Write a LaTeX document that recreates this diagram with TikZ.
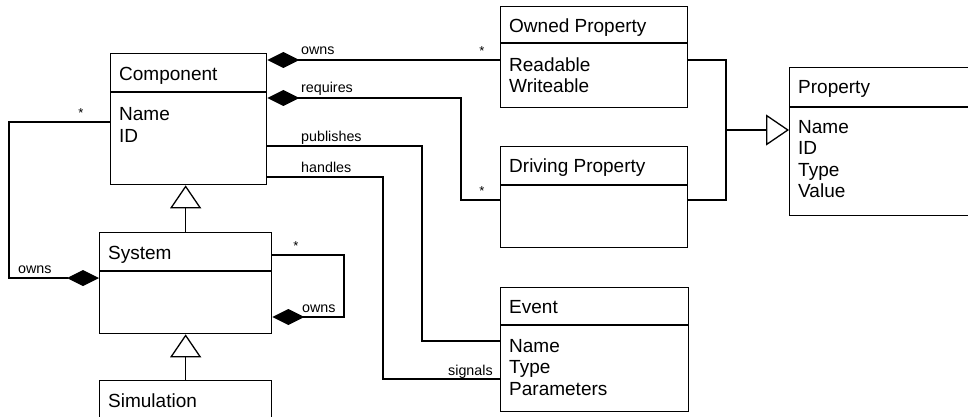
\documentclass[tikz,border=0pt]{standalone}
\usepackage{fontspec}
\setmainfont{Liberation Sans}
\usetikzlibrary{arrows.meta}
\tikzset{
  ln/.style={line width=1.3pt},
  cls/.style 2 args={draw, line width=1.3pt, anchor=north west, inner sep=0pt,
    minimum width=#1pt, minimum height=#2pt},
  txt/.style={anchor=base west, inner sep=0pt, font=\fontsize{19}{21}\selectfont},
  lbl/.style={anchor=base west, inner sep=0pt, font=\fontsize{14.3}{16}\selectfont},
  star/.style={inner sep=0pt, font=\fontsize{13}{14}\selectfont},
  compo/.style={ln, -{Diamond[length=32pt,width=16pt]}},
  gen/.style={ln, -{Triangle[length=23pt,width=31pt,fill=white]}},
}
\begin{document}
\begin{tikzpicture}[x=1pt,y=-1pt]
\clip (0,0) rectangle (968,417);
\fill[white] (0,0) rectangle (968,417);

% ---- classes ----
\node[cls={156}{131}] (comp) at (110,53) {};
\draw[ln] (comp.west |- 0,92) -- (comp.east |- 0,92);
\node[txt] (compT) at (119,81) {Component};
\node[txt] (compA1) at (119,121) {Name};
\node[txt] (compA2) at (119,142) {ID};

\node[cls={172}{101}] (sys) at (99,232) {};
\draw[ln] (sys.west |- 0,271) -- (sys.east |- 0,271);
\node[txt] (sysT) at (108,259) {System};

\node[cls={172}{80}] (sim) at (99,380) {};
\node[txt] (simT) at (108,407) {Simulation};

\node[cls={187}{101}] (owned) at (500,6) {};
\draw[ln] (owned.west |- 0,43) -- (owned.east |- 0,43);
\node[txt] (ownedT) at (509,33) {Owned Property};
\node[txt] (ownedA1) at (509,72) {Readable};
\node[txt] (ownedA2) at (509,93) {Writeable};

\node[cls={187}{101}] (drv) at (500,146) {};
\draw[ln] (drv.west |- 0,185) -- (drv.east |- 0,185);
\node[txt] (drvT) at (509,172) {Driving Property};

\node[cls={220}{148}] (prop) at (789,67) {};
\draw[ln] (prop.west |- 0,107) -- (prop.east |- 0,107);
\node[txt] (propT) at (798,94) {Property};
\node[txt] (propA1) at (798,133) {Name};
\node[txt] (propA2) at (798,154.5) {ID};
\node[txt] (propA3) at (798,176) {Type};
\node[txt] (propA4) at (798,197.5) {Value};

\node[cls={188}{124}] (evt) at (500,287) {};
\draw[ln] (evt.west |- 0,325) -- (evt.east |- 0,325);
\node[txt] (evtT) at (509,313) {Event};
\node[txt] (evtA1) at (509,352) {Name};
\node[txt] (evtA2) at (509,373.5) {Type};
\node[txt] (evtA3) at (509,395) {Parameters};

% ---- generalisations ----
\draw[gen] (sys.north) -- (sys.north |- comp.south);
\draw[gen] (sim.north) -- (sim.north |- sys.south);
\coordinate (pj) at (726,130);
\draw[ln] (owned.east |- 0,60) -| (pj) |- (drv.east |- 0,200);
\draw[gen] (pj) -- (prop.west |- pj);

% ---- associations ----
\draw[compo] (owned.west |- 0,60) -- (comp.east |- 0,60);
\node[lbl] (l1) at (301,55) {owns};
\node[star] (s1) at (482,51) {*};

\draw[compo] (drv.west |- 0,200) -- (461,200) -- (461,98) -- (comp.east |- 0,98);
\node[lbl] (l2) at (301,93) {requires};
\node[star] (s2) at (482,191) {*};

\draw[ln] (comp.east |- 0,146) -- (422,146) -- (422,341) -- (evt.west |- 0,341);
\node[lbl] (l3) at (301,141) {publishes};

\draw[ln] (comp.east |- 0,177) -- (383,177) -- (383,379) -- (evt.west |- 0,379);
\node[lbl] (l4) at (301,172) {handles};
\node[lbl] (l5) at (448,375) {signals};

\draw[compo] (comp.west |- 0,122) -- (9,122) -- (9,278) -- (sys.west |- 0,278);
\node[star] (s3) at (81,113) {*};
\node[lbl] (l6) at (18,273) {owns};

\draw[compo] (sys.east |- 0,255) -- (344,255) -- (344,317) -- (sys.east |- 0,317);
\node[star] (s4) at (296,246) {*};
\node[lbl] (l7) at (302,312) {owns};
\end{tikzpicture}
\end{document}
